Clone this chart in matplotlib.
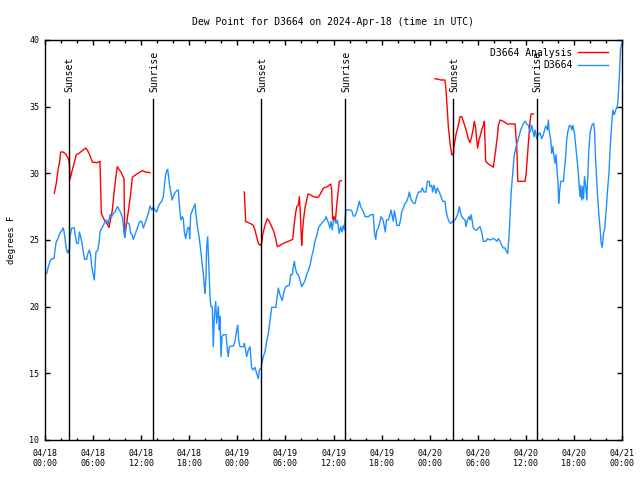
import matplotlib
matplotlib.use("Agg")
import matplotlib.pyplot as plt
import numpy as np
from matplotlib.ticker import MultipleLocator, FixedLocator

# ---- data (hours since 2024-04-18 00:00 UTC, dew point in F) ----
blue_hours = [0.0, 0.21, 0.42, 0.62, 0.83, 1.12, 1.25, 1.37, 1.54, 1.79, 1.95, 2.2, 2.29, 2.41, 2.5, 2.62, 2.79, 2.95, 3.04, 3.12, 3.33, 3.66, 3.74, 3.95, 4.16, 4.28, 4.45, 4.62, 4.78, 4.95, 5.2, 5.33, 5.53, 5.7, 5.83, 6.03, 6.15, 6.28, 6.36, 6.57, 6.74, 6.86, 7.07, 7.28, 7.49, 7.69, 7.9, 8.11, 8.32, 8.53, 8.73, 8.95, 9.07, 9.23, 9.45, 9.7, 9.86, 9.98, 10.1, 10.27, 10.52, 10.69, 10.86, 11.02, 11.23, 11.44, 11.64, 11.85, 12.07, 12.27, 12.48, 12.69, 12.89, 13.1, 13.31, 13.51, 13.73, 13.94,
              14.14, 14.35, 14.56, 14.76, 14.93, 15.06, 15.19, 15.31, 15.39, 15.52, 15.69, 15.85, 16.01, 16.22, 16.43, 16.64, 16.72, 16.85, 16.97, 17.14, 17.26, 17.39, 17.55, 17.68, 17.8, 17.97, 18.05, 18.18, 18.38, 18.59, 18.72, 18.84, 19.0, 19.22, 19.43, 19.63, 19.76, 19.88, 19.96, 20.09, 20.17, 20.3, 20.43, 20.59, 20.71, 20.88, 21.0, 21.13, 21.3, 21.42, 21.63, 21.75, 21.84, 21.96, 22.09, 22.25, 22.59, 22.75, 22.87, 23.0, 23.21, 23.5, 23.71, 23.92, 24.05, 24.17, 24.33, 24.54, 24.74, 24.87, 25.0, 25.16, 25.37,
              25.58, 25.79, 25.99, 26.2, 26.41, 26.62, 26.74, 26.96, 27.08, 27.24, 27.45, 27.66, 27.87, 28.08, 28.29, 28.58, 28.83, 28.91, 29.12, 29.24, 29.41, 29.61, 29.74, 29.95, 30.16, 30.49, 30.66, 30.86, 30.99, 31.12, 31.24, 31.41, 31.61, 31.82, 32.03, 32.23, 32.44, 32.65, 32.86, 33.07, 33.28, 33.49, 33.69, 33.9, 34.11, 34.32, 34.53, 34.74, 34.95, 35.07, 35.23, 35.4, 35.56, 35.69, 35.85, 35.97, 36.19, 36.31, 36.47, 36.6, 36.72, 36.9, 37.06, 37.22, 37.35, 37.47, 37.56, 37.85,
              38.06, 38.27, 38.48, 38.69, 38.9, 39.1, 39.22, 39.39, 39.6, 39.81, 39.93, 40.35, 40.64, 40.97, 41.1, 41.27, 41.4, 41.6, 41.81, 41.93, 42.1, 42.22, 42.35, 42.47, 42.6, 42.85, 43.05, 43.17, 43.34, 43.47, 43.59, 43.76, 43.89, 44.21, 44.39, 44.51, 44.72, 44.93, 45.14, 45.34, 45.47, 45.64, 45.8, 45.97, 46.18, 46.39, 46.59, 46.89, 47.08, 47.29, 47.54, 47.71, 47.95,
              48.04, 48.25, 48.37, 48.54, 48.79, 48.95, 49.2, 49.41, 49.63, 49.91, 50.04, 50.2, 50.41, 50.63, 50.87, 51.16, 51.37, 51.58, 51.7, 51.87, 52.0, 52.2, 52.41, 52.54, 52.7, 52.91, 53.04, 53.16, 53.29, 53.45, 53.66, 53.87, 54.08, 54.28, 54.49, 54.7, 55.03, 55.2, 55.53, 55.87, 56.16, 56.37, 56.58, 56.78, 56.99, 57.2, 57.41, 57.62, 57.74, 57.87, 58.03, 58.16, 58.33, 58.53, 58.78, 59.07, 59.36, 59.7, 59.94, 60.11, 60.32, 60.53, 60.74, 60.86, 61.02, 61.15, 61.36, 61.56, 61.77,
              61.98, 62.19, 62.4, 62.52, 62.69, 62.81, 62.89, 63.11, 63.23, 63.36, 63.52, 63.65, 63.77, 63.86, 64.02, 64.1, 64.19, 64.36, 64.69, 64.81, 64.94, 65.1, 65.23, 65.44, 65.61, 65.73, 65.86, 66.07, 66.23, 66.36, 66.52, 66.65, 66.77, 66.86, 66.98, 67.11, 67.19, 67.32, 67.48, 67.61, 67.73, 67.86, 68.02, 68.23, 68.44, 68.57, 68.69, 68.86, 69.07, 69.28, 69.4, 69.53, 69.69, 69.82, 70.03, 70.2, 70.37, 70.53, 70.74, 70.86, 71.02, 71.23, 71.44, 71.56, 71.69, 71.81, 71.95]
blue_vals = [22.4, 22.5, 23.0, 23.4, 23.6, 23.6, 24.25, 24.8, 25.0, 25.4, 25.6, 25.8, 25.9, 25.5, 25.1, 24.5, 24.05, 24.25, 24.0, 25.25, 25.9, 25.9, 25.5, 24.75, 24.75, 25.6, 25.25, 24.75, 24.1, 23.55, 23.55, 23.95, 24.25, 23.9, 23.0, 22.4, 22.0, 23.4, 24.1, 24.2, 24.75, 25.6, 25.9, 26.1, 26.4, 26.5, 26.2, 26.9, 26.75, 27.0, 27.1, 27.4, 27.5, 27.3, 27.05, 26.6, 25.5, 25.2, 26.25, 26.3, 26.2, 25.5, 25.4, 25.05, 25.4, 25.75, 26.1, 26.4, 26.4, 25.9, 26.25, 26.6, 27.0, 27.55, 27.25, 27.45, 27.25, 27.1,
             27.5, 27.75, 27.9, 28.25, 29.25, 29.9, 30.2, 30.3, 29.9, 29.25, 28.6, 28.0, 28.25, 28.55, 28.7, 28.75, 28.0, 27.1, 26.5, 26.75, 26.6, 25.6, 25.1, 25.55, 25.9, 25.95, 25.1, 26.9, 27.2, 27.5, 27.7, 26.9, 26.1, 25.25, 24.25, 23.1, 22.45, 21.5, 21.0, 22.25, 24.5, 25.25, 23.25, 20.75, 20.0, 20.0, 17.0, 19.25, 20.4, 18.75, 20.0, 18.25, 19.25, 16.25, 17.75, 17.9, 17.9, 16.75, 16.25, 17.0, 17.05, 17.05, 17.4, 18.25, 18.6, 17.5, 17.0, 17.0, 17.0, 17.25, 16.9, 16.25, 16.75,
             17.0, 15.4, 15.25, 15.45, 15.0, 14.6, 15.25, 15.4, 15.75, 16.25, 16.6, 17.4, 18.0, 19.0, 19.95, 19.95, 19.95, 20.5, 21.4, 21.05, 20.75, 20.45, 20.9, 21.4, 21.55, 21.6, 22.4, 22.4, 23.0, 23.4, 22.9, 22.5, 22.4, 22.0, 21.5, 21.7, 21.95, 22.4, 22.7, 23.1, 23.75, 24.25, 24.9, 25.3, 25.9, 26.1, 26.25, 26.4, 26.55, 26.75, 26.5, 26.25, 25.9, 26.4, 25.75, 26.4, 26.5, 26.25, 26.5, 26.0, 25.5, 26.0, 25.6, 26.1, 25.75, 26.75, 27.25, 27.25,
             27.25, 27.2, 26.8, 26.8, 27.1, 27.6, 27.9, 27.5, 27.25, 27.0, 26.75, 26.75, 26.9, 26.9, 25.6, 25.05, 25.7, 25.9, 26.4, 26.75, 26.6, 26.4, 26.0, 25.6, 26.5, 26.5, 26.9, 27.25, 26.75, 26.4, 27.2, 26.7, 26.1, 26.1, 26.6, 27.1, 27.4, 27.75, 27.9, 28.25, 28.6, 28.1, 27.9, 27.75, 27.75, 28.25, 28.6, 28.6, 28.9, 28.6, 28.6, 29.4, 29.4,
             29.0, 29.1, 28.6, 29.1, 28.5, 28.9, 28.6, 28.25, 27.9, 27.9, 27.25, 26.75, 26.4, 26.25, 26.4, 26.5, 26.75, 27.1, 27.5, 27.0, 26.75, 26.6, 26.5, 26.0, 26.5, 26.75, 26.5, 26.9, 26.5, 25.9, 25.75, 25.75, 25.9, 26.0, 25.6, 24.9, 24.9, 25.1, 25.0, 25.1, 25.05, 24.9, 25.1, 24.9, 24.6, 24.4, 24.4, 24.1, 24.0, 25.0, 26.75, 28.5, 29.75, 31.25, 32.0, 32.6, 33.25, 33.75, 33.9, 33.7, 33.6, 33.1, 33.6, 33.25, 32.75, 33.25, 32.6, 32.9, 33.05,
             32.6, 32.9, 33.4, 33.55, 33.25, 34.0, 33.25, 32.5, 31.5, 32.0, 31.25, 30.75, 31.4, 30.5, 29.25, 27.75, 28.5, 29.4, 29.4, 30.25, 31.0, 32.5, 33.1, 33.6, 33.55, 33.25, 33.6, 33.0, 32.0, 31.25, 30.25, 29.1, 28.25, 29.1, 28.0, 29.0, 28.1, 29.75, 29.0, 28.0, 29.75, 31.75, 33.0, 33.6, 33.75, 33.25, 31.25, 29.25, 27.25, 25.75, 24.75, 24.45, 25.5, 25.75, 27.25, 28.75, 30.0, 32.0, 33.9, 34.75, 34.4, 34.75, 35.1, 36.1, 37.5, 39.25, 39.7]

red_hours = [1.16, 1.41, 1.62, 1.83, 1.95, 2.25, 2.58, 2.91, 3.04, 3.12, 3.2, 3.41, 3.62, 3.91, 4.24, 4.66, 5.07, 5.28, 5.57, 5.9, 6.53, 6.86, 7.03, 7.36, 7.7, 7.99, 8.2, 8.4, 8.61, 8.82, 9.03, 9.23, 9.52, 9.86, 9.94, 10.07, 10.27, 10.48, 10.69, 10.9, 11.32, 11.73, 12.14, 12.56, 13.1,
             None,
             24.87, 24.96, 25.04, 25.37, 25.58, 25.99, 26.2, 26.41, 26.62, 26.83, 27.04, 27.16, 27.45, 27.74, 27.99, 28.29, 28.58, 28.79, 28.99, 29.33, 29.74, 30.16, 30.57, 30.91, 31.07, 31.24, 31.41, 31.61, 31.74, 31.82, 31.94, 32.03, 32.11, 32.23, 32.44, 32.65, 32.82, 33.07, 33.49, 33.9, 34.11, 34.4, 34.74, 35.23, 35.65, 35.77, 35.89, 35.97, 36.06, 36.23, 36.4, 36.6, 36.72, 36.98,
             None,
             48.66, 49.08, 49.41, 49.91, 50.04, 50.2, 50.33, 50.54, 50.75, 50.95, 51.03, 51.28, 51.58, 51.79, 52.0, 52.2, 52.41, 52.62, 52.82, 53.03, 53.24, 53.45, 53.57, 53.74, 53.87, 53.99, 54.15, 54.28, 54.49, 54.7, 54.82, 54.91, 54.99, 55.32, 55.74, 55.94, 56.07, 56.24, 56.44, 56.58, 56.79, 57.2, 57.7, 58.24, 58.66, 58.74, 58.87, 58.95, 59.0, 59.36, 59.9, 60.03, 60.19, 60.36, 60.53, 60.65, 60.95]
red_vals = [28.5, 29.25, 30.25, 30.9, 31.6, 31.6, 31.45, 31.1, 30.8, 29.55, 29.75, 30.25, 30.75, 31.4, 31.5, 31.7, 31.9, 31.75, 31.4, 30.85, 30.8, 30.9, 27.0, 26.55, 26.25, 25.95, 26.6, 27.25, 28.5, 29.6, 30.5, 30.3, 30.05, 29.6, 25.25, 25.75, 26.6, 27.5, 28.5, 29.7, 29.9, 30.05, 30.2, 30.1, 30.05,
            None,
            28.6, 27.5, 26.4, 26.3, 26.25, 26.1, 25.75, 25.25, 24.75, 24.6, 24.75, 25.4, 26.1, 26.6, 26.4, 26.0, 25.6, 25.1, 24.5, 24.6, 24.75, 24.85, 24.95, 25.05, 26.0, 26.9, 27.5, 27.6, 28.25, 27.5, 25.75, 24.6, 25.4, 26.4, 27.4, 28.0, 28.45, 28.4, 28.25, 28.2, 28.2, 28.5, 28.9, 29.0, 29.2, 28.75, 26.6, 26.5, 26.75, 26.4, 27.6, 28.75, 29.4, 29.45,
            None,
            37.1, 37.05, 37.0, 37.0, 36.25, 34.75, 33.5, 32.25, 31.4, 31.4, 32.0, 32.9, 33.6, 34.25, 34.25, 33.9, 33.5, 33.1, 32.6, 32.3, 32.75, 33.4, 33.9, 33.4, 32.5, 31.9, 32.5, 32.75, 33.25, 33.6, 33.9, 32.4, 30.9, 30.7, 30.55, 30.45, 31.0, 31.75, 32.75, 33.6, 34.0, 33.9, 33.7, 33.7, 33.7, 33.0, 32.0, 30.5, 29.4, 29.4, 29.4, 29.9, 31.25, 32.6, 33.9, 34.45, 34.45]

sun_hours = [3.0, 13.5, 27.0, 37.47, 50.95, 61.38]
sun_labels = ["Sunset", "Sunrise", "Sunset", "Sunrise", "Sunset", "Sunrise"]

tick_hours = [0, 6, 12, 18, 24, 30, 36, 42, 48, 54, 60, 66, 72]
tick_labels = ["04/18\n00:00", "04/18\n06:00", "04/18\n12:00", "04/18\n18:00",
               "04/19\n00:00", "04/19\n06:00", "04/19\n12:00", "04/19\n18:00",
               "04/20\n00:00", "04/20\n06:00", "04/20\n12:00", "04/20\n18:00",
               "04/21\n00:00"]

title = "Dew Point for D3664 on 2024-Apr-18 (time in UTC)"

plt.rcParams['font.family'] = ['DejaVu Sans Mono']

fig = plt.figure(figsize=(6.4, 4.8), dpi=100)
ax = fig.add_axes([45/640, 1 - 440/480, (622-45)/640, 400/480])

rh = np.array([np.nan if h is None else h for h in red_hours], dtype=float)
rv = np.array([np.nan if v is None else v for v in red_vals], dtype=float)

l1, = ax.plot(rh, rv, color='#ff0000', lw=1.0, label='D3664 Analysis')
l2, = ax.plot(blue_hours, blue_vals, color='#1e90ff', lw=1.0, label='D3664')

for h, lab in zip(sun_hours, sun_labels):
    ax.plot([h, h], [0, 0.8525], color='black', lw=1.0,
            transform=ax.get_xaxis_transform())
    ax.text(h + 0.1, 0.87, lab, rotation=90, ha='center', va='bottom',
            fontsize=7, transform=ax.get_xaxis_transform())

ax.set_xlim(0, 72)
ax.set_ylim(10, 40)
ax.xaxis.set_major_locator(FixedLocator(tick_hours))
ax.set_xticklabels(tick_labels, fontsize=6)
ax.xaxis.set_minor_locator(MultipleLocator(2))
ax.yaxis.set_major_locator(MultipleLocator(5))
ax.tick_params(axis='y', labelsize=6)
ax.tick_params(which='both', direction='in', top=True, right=True)
ax.tick_params(which='major', length=3.5, width=1.0)
ax.tick_params(which='minor', length=1.8, width=1.0)
ax.tick_params(axis='x', pad=6)
ax.tick_params(axis='y', pad=4)
for s in ax.spines.values():
    s.set_linewidth(1.0)

ax.set_title(title, fontsize=7, pad=11)
ax.set_ylabel("degrees F", fontsize=6.5, labelpad=10)

leg = ax.legend(handles=[l1, l2], loc='upper right', bbox_to_anchor=(0.985, 0.995),
                frameon=False, markerfirst=False, fontsize=7, handlelength=3.0,
                handletextpad=0.6, labelspacing=0.25, borderaxespad=0.2)

fig.savefig("out.png", dpi=100)
